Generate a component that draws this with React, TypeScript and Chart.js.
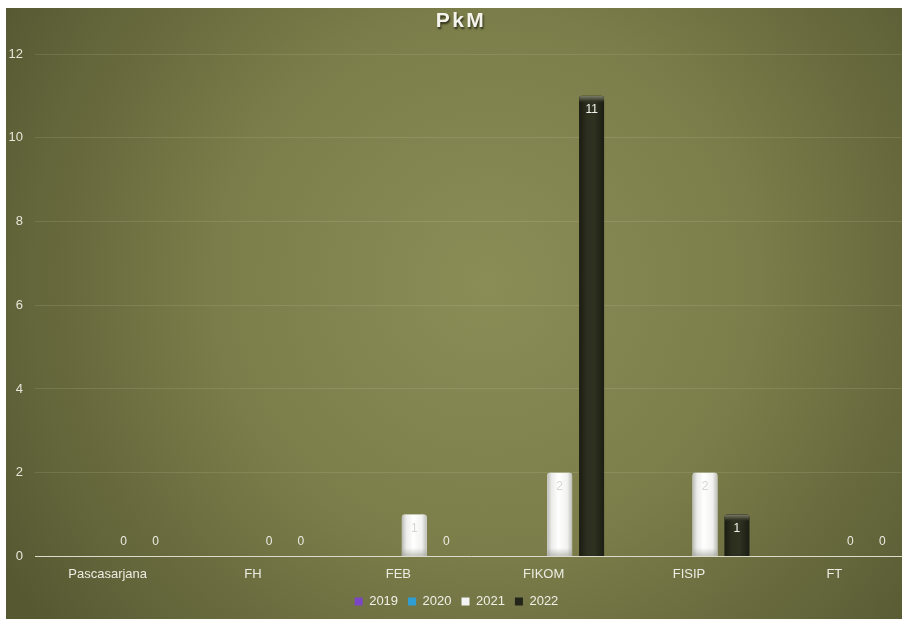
import React, { useEffect, useRef } from "react";
import { Chart, registerables } from "chart.js";

Chart.register(...registerables);

const categories = ["Pascasarjana", "FH", "FEB", "FIKOM", "FISIP", "FT"];
const seriesNames = ["2019", "2020", "2021", "2022"];
const values2019: (number | null)[] = [null, null, null, null, null, null];
const values2020: (number | null)[] = [null, null, null, null, null, null];
const values2021: (number | null)[] = [0, 0, 1, 2, 2, 0];
const values2022: (number | null)[] = [0, 0, 0, 11, 1, 0];
const yTicks = [0, 2, 4, 6, 8, 10, 12];
const chartTitle = "PkM";

const seriesColors = ["#7b45c8", "#2f9fd3", "#f4f4f4", "#23251a"];

const FONT = "'Liberation Sans', Arial, sans-serif";

const backgroundPlugin = {
  id: "bgGradient",
  beforeDraw(chart: any) {
    const { ctx, width, height } = chart;
    ctx.save();
    const cx = width * 0.53;
    const cy = height * 0.45;
    const g = ctx.createRadialGradient(cx, cy, 0, cx, cy, Math.max(width, height) * 0.62);
    g.addColorStop(0, "#8b8d57");
    g.addColorStop(0.45, "#7d7f4b");
    g.addColorStop(1, "#565832");
    ctx.fillStyle = g;
    ctx.fillRect(0, 0, width, height);
    ctx.restore();
  },
};

const titlePlugin = {
  id: "shadowTitle",
  afterDraw(chart: any) {
    const ctx = chart.ctx;
    ctx.save();
    ctx.font = `bold 21px ${FONT}`;
    (ctx as any).letterSpacing = "2.5px";
    ctx.textAlign = "center";
    ctx.textBaseline = "middle";
    ctx.shadowColor = "rgba(20,20,10,0.75)";
    ctx.shadowOffsetX = 1;
    ctx.shadowOffsetY = 2;
    ctx.shadowBlur = 2;
    ctx.fillStyle = "#f4f4ec";
    ctx.fillText(chartTitle, chart.width / 2 + 2, 13);
    ctx.restore();
  },
};

const barStylePlugin = {
  id: "barStyle",
  afterDatasetsDraw(chart: any) {
    const ctx = chart.ctx;
    chart.data.datasets.forEach((ds: any, di: number) => {
      const meta = chart.getDatasetMeta(di);
      if (meta.hidden) return;
      meta.data.forEach((el: any, i: number) => {
        const v = ds.data[i];
        if (v === null || v === undefined || v === 0) return;
        const left = el.x - el.width / 2;
        const w = el.width;
        const top = el.y;
        const h = el.base - el.y;
        ctx.save();
        ctx.beginPath();
        ctx.roundRect(left, top, w, h, [3, 3, 0, 0]);
        ctx.clip();
        if (di === 2) {
          const g = ctx.createLinearGradient(left, 0, left + w, 0);
          g.addColorStop(0, "#b9b9b5");
          g.addColorStop(0.18, "#ececea");
          g.addColorStop(0.45, "#ffffff");
          g.addColorStop(0.8, "#f2f2f0");
          g.addColorStop(1, "#bdbdb8");
          ctx.fillStyle = g;
          ctx.fillRect(left, top, w, h);
          const gv = ctx.createLinearGradient(0, el.base - 8, 0, el.base);
          gv.addColorStop(0, "rgba(160,160,150,0)");
          gv.addColorStop(1, "rgba(150,150,140,0.55)");
          ctx.fillStyle = gv;
          ctx.fillRect(left, el.base - 8, w, 8);
        } else if (di === 3) {
          const g = ctx.createLinearGradient(left, 0, left + w, 0);
          g.addColorStop(0, "#1b1c12");
          g.addColorStop(0.3, "#2c2e1e");
          g.addColorStop(0.6, "#2f3121");
          g.addColorStop(1, "#1c1d13");
          ctx.fillStyle = g;
          ctx.fillRect(left, top, w, h);
          const gt = ctx.createLinearGradient(0, top, 0, top + 7);
          gt.addColorStop(0, "#7a7c68");
          gt.addColorStop(0.5, "#4a4c3a");
          gt.addColorStop(1, "rgba(46,48,32,0)");
          ctx.fillStyle = gt;
          ctx.fillRect(left, top, w, 7);
        } else {
          ctx.fillStyle = seriesColors[di];
          ctx.fillRect(left, top, w, h);
        }
        ctx.restore();
      });
    });
  },
};

const labelPlugin = {
  id: "valueLabels",
  afterDatasetsDraw(chart: any) {
    const ctx = chart.ctx;
    ctx.save();
    ctx.font = `12px ${FONT}`;
    ctx.textAlign = "center";
    ctx.textBaseline = "middle";
    chart.data.datasets.forEach((ds: any, di: number) => {
      const meta = chart.getDatasetMeta(di);
      if (meta.hidden) return;
      meta.data.forEach((el: any, i: number) => {
        const v = ds.data[i];
        if (v === null || v === undefined) return;
        let y: number;
        if (v === 0) {
          y = el.base - 15;
          ctx.fillStyle = "#ecece2";
        } else {
          y = el.y + 14;
          ctx.fillStyle = di === 2 ? "#d6d6d2" : "#f4f4ee";
        }
        ctx.fillText(String(v), el.x, y);
      });
    });
    ctx.restore();
  },
};

export default function App() {
  const canvasRef = useRef<HTMLCanvasElement | null>(null);

  useEffect(() => {
    if (!canvasRef.current) return;
    const dataArrays = [values2019, values2020, values2021, values2022];
    const chart = new Chart(canvasRef.current, {
      type: "bar",
      data: {
        labels: categories,
        datasets: seriesNames.map((name, i) => ({
          label: name,
          data: dataArrays[i],
          backgroundColor: seriesColors[i],
          borderColor: i === 2 ? "#b0b0a8" : seriesColors[i],
          borderWidth: 0,
          borderRadius: { topLeft: 3, topRight: 3, bottomLeft: 0, bottomRight: 0 },
          borderSkipped: "bottom",
          categoryPercentage: 0.88,
          barPercentage: 0.78,
        })),
      },
      options: {
        responsive: false,
        animation: false,
        layout: { padding: { left: 0, right: 5, top: 46, bottom: 1 } },
        plugins: {
          title: { display: false, text: chartTitle },
          legend: {
            display: true,
            position: "bottom",
            labels: {
              color: "#f0f0e6",
              font: { family: FONT, size: 13 },
              boxWidth: 8,
              boxHeight: 8,
              padding: 10,
            },
          },
          tooltip: { enabled: false },
        },
        scales: {
          x: {
            grid: { display: false, drawTicks: false },
            border: { display: true, color: "#dcdccc", width: 1 },
            afterFit: (axis: any) => {
              axis.height = axis.height - 7;
            },
            ticks: {
              color: "#ecece2",
              font: { family: FONT, size: 13 },
              padding: 10,
            },
          },
          y: {
            min: 0,
            max: 12,
            afterBuildTicks: (axis: any) => {
              axis.ticks = yTicks.map((v) => ({ value: v }));
            },
            afterFit: (axis: any) => {
              axis.width = 29;
            },
            grid: { color: "rgba(235,235,215,0.12)", drawTicks: false, lineWidth: 1 },
            border: { display: false },
            ticks: {
              color: "#e6e6da",
              font: { family: FONT, size: 13 },
              padding: 12,
            },
          },
        },
      },
      plugins: [backgroundPlugin, barStylePlugin, labelPlugin, titlePlugin],
    } as any);
    return () => chart.destroy();
  }, []);

  return (
    <div
      style={{
        position: "absolute",
        left: 6,
        top: 8,
        width: 896,
        height: 611,
        overflow: "hidden",
      }}
    >
      <canvas ref={canvasRef} width={906} height={611} style={{ display: "block" }} />
    </div>
  );
}
